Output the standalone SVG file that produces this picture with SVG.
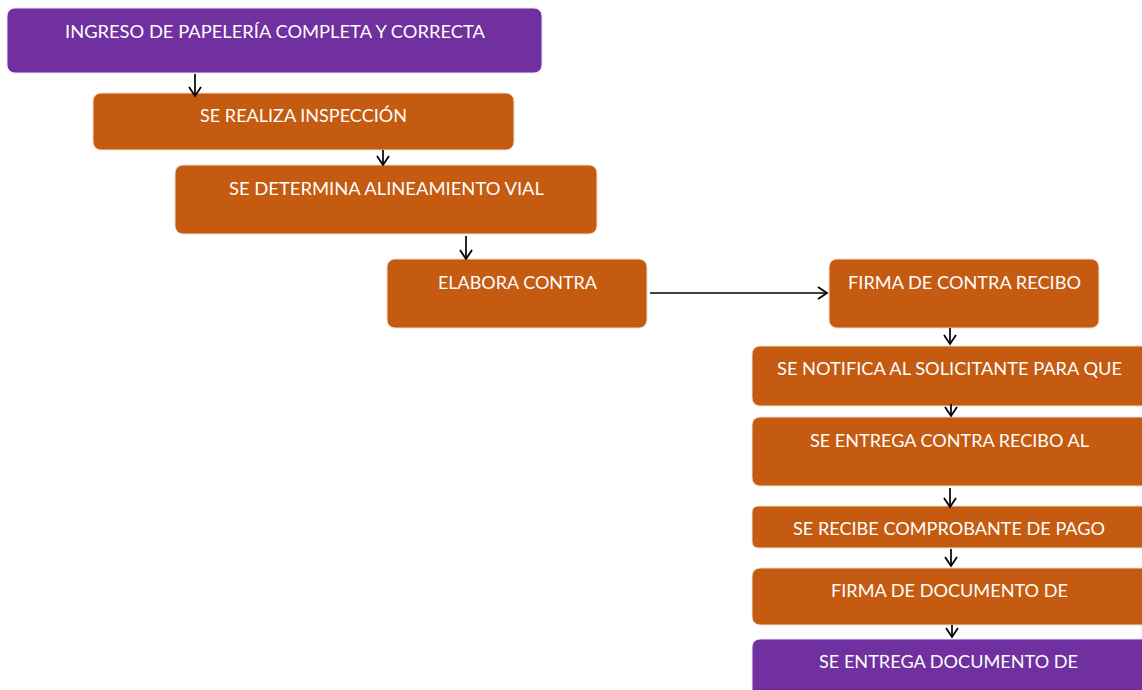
<svg xmlns="http://www.w3.org/2000/svg" width="1142" height="690" viewBox="0 0 1142 690">
<style>
.p{fill:#7030A0;stroke:#EDE3F3;stroke-width:1}
.o{fill:#C55A11;stroke:#F4DCCB;stroke-width:1}
.t{fill:#FFFFFF;font-family:Lato,"Open Sans",sans-serif;font-size:17px;text-anchor:middle}
.c{fill:none;stroke:#000;stroke-width:1.7}
</style>
<defs>
<marker id="ah" markerUnits="userSpaceOnUse" markerWidth="20" markerHeight="20" viewBox="-10 -10 20 20" refX="0" refY="0" orient="auto">
<path d="M-9,-6 L0,0 L-9,6" fill="none" stroke="#000" stroke-width="1.8"/>
</marker>
</defs>
<rect width="1142" height="690" fill="#FFFFFF"/>
<g id="n1"><rect class="p" x="7" y="8" width="535" height="65" rx="8"/><text class="t" x="275" y="37.5" textLength="420" lengthAdjust="spacingAndGlyphs">INGRESO DE PAPELERÍA COMPLETA Y CORRECTA</text></g>
<g id="n2"><rect class="o" x="93" y="93" width="421" height="57" rx="8"/><text class="t" x="303.5" y="121.5" textLength="207" lengthAdjust="spacingAndGlyphs">SE REALIZA INSPECCIÓN</text></g>
<g id="n3"><rect class="o" x="175" y="165" width="422" height="69" rx="8"/><text class="t" x="386.5" y="194.5" textLength="315" lengthAdjust="spacingAndGlyphs">SE DETERMINA ALINEAMIENTO VIAL</text></g>
<g id="n4"><rect class="o" x="387" y="259" width="260" height="69" rx="8"/><text class="t" x="517.5" y="288.5" textLength="159" lengthAdjust="spacingAndGlyphs">ELABORA CONTRA</text></g>
<g id="n5"><rect class="o" x="829" y="259" width="270" height="69" rx="8"/><text class="t" x="964.5" y="288.5" textLength="233" lengthAdjust="spacingAndGlyphs">FIRMA DE CONTRA RECIBO</text></g>
<g id="n6"><rect class="o" x="752" y="346" width="400" height="60" rx="8"/><text class="t" x="949.5" y="374.5" textLength="345" lengthAdjust="spacingAndGlyphs">SE NOTIFICA AL SOLICITANTE PARA QUE</text></g>
<g id="n7"><rect class="o" x="752" y="417" width="400" height="69" rx="8"/><text class="t" x="949.5" y="446.5" textLength="279" lengthAdjust="spacingAndGlyphs">SE ENTREGA CONTRA RECIBO AL</text></g>
<g id="n8"><rect class="o" x="752" y="506" width="400" height="42" rx="6"/><text class="t" x="949" y="534.5" textLength="312" lengthAdjust="spacingAndGlyphs">SE RECIBE COMPROBANTE DE PAGO</text></g>
<g id="n9"><rect class="o" x="752" y="568" width="400" height="57" rx="8"/><text class="t" x="949.5" y="596.5" textLength="237" lengthAdjust="spacingAndGlyphs">FIRMA DE DOCUMENTO DE</text></g>
<g id="n10"><rect class="p" x="752" y="639" width="400" height="60" rx="8"/><text class="t" x="948.5" y="667.5" textLength="259" lengthAdjust="spacingAndGlyphs">SE ENTREGA DOCUMENTO DE</text></g>
<g id="connectors">
<line class="c" x1="195" y1="74" x2="195" y2="96" marker-end="url(#ah)"/>
<line class="c" x1="383" y1="150" x2="383" y2="165" marker-end="url(#ah)"/>
<line class="c" x1="466" y1="236" x2="466" y2="259" marker-end="url(#ah)"/>
<line class="c" x1="650" y1="293" x2="827" y2="293" marker-end="url(#ah)"/>
<line class="c" x1="950" y1="328" x2="950" y2="344" marker-end="url(#ah)"/>
<line class="c" x1="951" y1="404" x2="951" y2="416" marker-end="url(#ah)"/>
<line class="c" x1="950" y1="488" x2="950" y2="507" marker-end="url(#ah)"/>
<line class="c" x1="951" y1="549" x2="951" y2="566" marker-end="url(#ah)"/>
<line class="c" x1="952" y1="625" x2="952" y2="637" marker-end="url(#ah)"/>
</g>
</svg>
